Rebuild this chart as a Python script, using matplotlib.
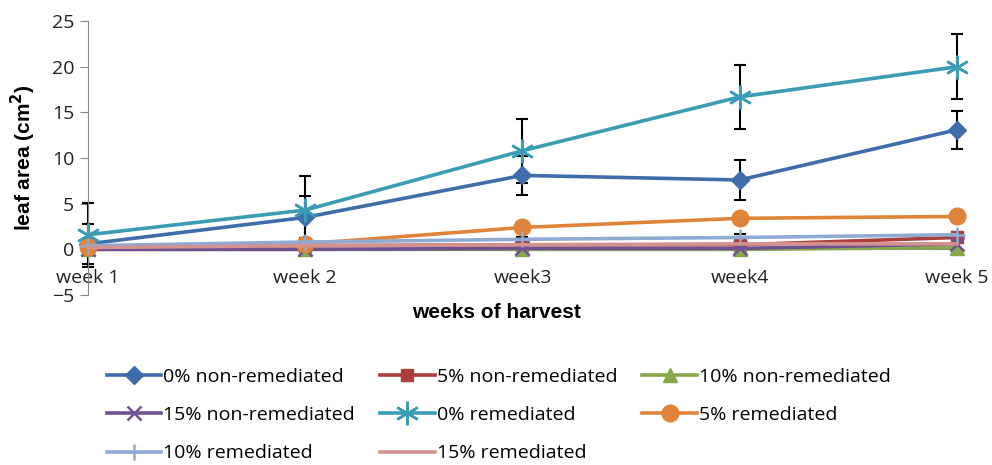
import matplotlib
matplotlib.use("Agg")
import matplotlib.pyplot as plt

plt.rcParams['font.family'] = ['Liberation Sans Narrow', 'Liberation Sans', 'DejaVu Sans']

# data
weeks = ['week 1', 'week 2', 'week3', 'week4', 'week 5']

non_rem_0 = [0.6, 3.5, 8.1, 7.6, 13.1]
non_rem_5 = [0.1, 0.4, 0.5, 0.5, 1.3]
non_rem_10 = [0.0, 0.0, 0.0, 0.0, 0.2]
non_rem_15 = [0.0, 0.0, 0.1, 0.1, 0.6]
rem_0 = [1.6, 4.3, 10.8, 16.7, 20.0]
rem_5 = [0.3, 0.6, 2.4, 3.4, 3.6]
rem_10 = [0.4, 0.8, 1.1, 1.3, 1.6]
rem_15 = [0.2, 0.4, 0.5, 0.6, 0.6]

err_non_rem_0 = [2.2, 2.3, 2.1, 2.15, 2.1]
err_rem_0 = [3.5, 3.7, 3.5, 3.5, 3.55]
err_rem_10 = [0.3, 0.3, 0.3, 0.4, 0.3]

labels = ['0% non-remediated', '5% non-remediated', '10% non-remediated',
          '15% non-remediated', '0% remediated', '5% remediated',
          '10% remediated', '15% remediated']

fig = plt.figure(figsize=(9.92, 4.65), dpi=100)
ax = fig.add_axes([0.0887, 0.3656, 0.876, 0.589])

x = list(range(len(weeks)))

# series: values, colour, marker, marker size
series = [
    (non_rem_0, '#3E6DAA', 'D', 9),
    (non_rem_5, '#AC3E3B', 's', 9),
    (non_rem_10, '#86A84A', '^', 10),
    (non_rem_15, '#6F5192', 'x', 10),
    (rem_0, '#3A9CB5', (6, 2, 0), 17),
    (rem_5, '#E0843A', 'o', 12),
    (rem_10, '#8FAAD3', '+', 12),
    (rem_15, '#D3918F', None, 0),
]

errs = {0: err_non_rem_0, 4: err_rem_0, 6: err_rem_10}

lines = []
for i, (vals, col, mk, ms) in enumerate(series):
    if i in errs:
        ax.errorbar(x, vals, yerr=errs[i], fmt='none', ecolor='black',
                    elinewidth=1.5, capsize=4, capthick=1.5, zorder=2 + i * 0.1,
                    clip_on=False)
    ln, = ax.plot(x, vals, color=col, lw=2.6, marker=mk, markersize=ms,
                  markeredgewidth=1.8 if mk in ('x', '+', (6, 2, 0)) else 1,
                  markeredgecolor=col, zorder=3 + i * 0.1, label=labels[i],
                  clip_on=False)
    lines.append(ln)

ax.set_xlim(0, 4)
ax.set_ylim(-5, 25)
ax.set_yticks(range(-5, 26, 5))
ax.set_xticks(x)
ax.set_xticklabels(weeks)

ax.spines['top'].set_visible(False)
ax.spines['right'].set_visible(False)
ax.spines['left'].set_color('#868686')
ax.spines['bottom'].set_position(('data', 0))
ax.spines['bottom'].set_color('#868686')
ax.spines['bottom'].set_zorder(1)

ax.tick_params(axis='y', direction='out', length=6, color='#868686',
               labelcolor='#222222', pad=4)
ax.tick_params(axis='x', length=0, labelcolor='#222222', pad=14)

for t in ax.get_yticklabels() + ax.get_xticklabels():
    t.set_family(['Open Sans', 'DejaVu Sans'])
    t.set_fontsize(14)

ax.set_ylabel('leaf area (cm$^\\mathbf{2}$)', fontsize=15, fontweight='bold', labelpad=10)
fig.text(0.5, 1 - 313 / 465, 'weeks of harvest', ha='center', va='center',
         fontsize=15, fontweight='bold')

# Excel fills legend row by row, matplotlib column by column
order = [0, 3, 6, 1, 4, 7, 2, 5]
leg = fig.legend(handles=[lines[k] for k in order], loc='upper left',
                 bbox_to_anchor=(0.09, 1 - 350 / 465),
                 ncol=3, frameon=False, handlelength=2.8,
                 handletextpad=0.1, columnspacing=1.3, labelspacing=1.05,
                 prop={'family': ['Open Sans', 'DejaVu Sans'], 'size': 14})

fig.savefig('out.png', dpi=100)
